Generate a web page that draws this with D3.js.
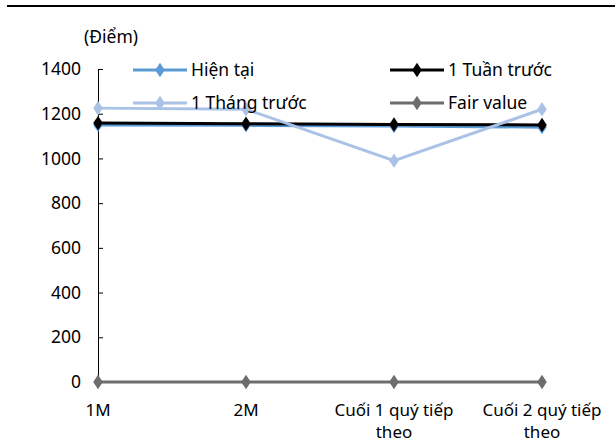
<!DOCTYPE html>
<html>
<head>
<meta charset="utf-8">
<script src="https://cdn.jsdelivr.net/npm/d3@7"></script>
<style>
  body { margin: 0; background: #fff; }
</style>
</head>
<body>
<svg id="chart" width="615" height="443"></svg>
<script>
// Données
const categories = ["1M", "2M", "Cuối 1 quý tiếp theo", "Cuối 2 quý tiếp theo"];
const catLines = [["1M"], ["2M"], ["Cuối 1 quý tiếp", "theo"], ["Cuối 2 quý tiếp", "theo"]];
const hienTai = [1150, 1148, 1145, 1140];
const tuanTruoc = [1158, 1155, 1152, 1150];
const thangTruoc = [1225, 1220, 990, 1220];
const fairValue = [0, 0, 0, 0];
const yTicks = [0, 200, 400, 600, 800, 1000, 1200, 1400];

const series = [
  { name: "Hiện tại", values: hienTai, color: "#5b9bd5" },
  { name: "1 Tuần trước", values: tuanTruoc, color: "#000000" },
  { name: "1 Tháng trước", values: thangTruoc, color: "#a9c2e6" },
  { name: "Fair value", values: fairValue, color: "#6d6d6d" }
];

const FONT = "Noto Sans, DejaVu Sans, sans-serif";
const FS = 17.5;

const svg = d3.select("#chart")
  .attr("font-family", FONT).attr("font-size", FS);
const margin = { top: 69, left: 98, right: 73, bottom: 61 };
const width = 615 - margin.left - margin.right;
const height = 443 - margin.top - margin.bottom;

// ligne du haut
svg.append("line")
  .attr("x1", 7).attr("x2", 615).attr("y1", 6).attr("y2", 6)
  .attr("stroke", "#000").attr("stroke-width", 2);

svg.append("text").attr("x", 84).attr("y", 43).text("(Điểm)");

const chart = svg.append("g")
  .attr("transform", `translate(${margin.left},${margin.top})`);

const x = d3.scalePoint().domain(categories).range([0, width]).padding(0);
const y = d3.scaleLinear().domain([0, 1400]).range([height, 0]);

// axe y
const yAxis = chart.append("g")
  .call(d3.axisLeft(y).tickValues(yTicks).tickFormat(d3.format("d"))
    .tickSize(-5).tickPadding(17).tickSizeOuter(0));
yAxis.attr("font-family", FONT).attr("font-size", FS);
yAxis.select(".domain").attr("stroke", "#000").attr("stroke-width", 1);
yAxis.selectAll("line").attr("stroke", "#000");
yAxis.selectAll("text").attr("fill", "#000");

// étiquettes x (deux lignes)
chart.selectAll(".xlab")
  .data(categories)
  .join("text")
  .attr("class", "xlab")
  .attr("text-anchor", "middle")
  .attr("font-size", 17)
  .attr("x", d => x(d))
  .attr("y", height + 34)
  .each(function (d, i) {
    catLines[i].forEach((t, j) => {
      d3.select(this).append("tspan")
        .attr("x", x(d)).attr("dy", j === 0 ? 0 : 22).text(t);
    });
  });

const line = d3.line().x((d, i) => x(categories[i])).y(d => y(d));
const diamond = d3.symbol().type(d3.symbolDiamond).size(60);

series.forEach(s => {
  chart.append("path")
    .datum(s.values)
    .attr("d", line)
    .attr("fill", "none")
    .attr("stroke", s.color)
    .attr("stroke-width", 3);
  chart.selectAll(null)
    .data(s.values)
    .join("path")
    .attr("d", diamond)
    .attr("transform", (d, i) => `translate(${x(categories[i])},${y(d)}) scale(1.15,1)`)
    .attr("fill", s.color);
});

// légende
const legendPos = [
  { x: 133, y: 70 }, { x: 390, y: 70 },
  { x: 133, y: 103 }, { x: 390, y: 103 }
];
series.forEach((s, i) => {
  const g = svg.append("g").attr("transform", `translate(${legendPos[i].x},${legendPos[i].y})`);
  g.append("line").attr("x1", 0).attr("x2", 54)
    .attr("stroke", s.color).attr("stroke-width", 3);
  g.append("path").attr("d", diamond).attr("transform", "translate(27,0) scale(1.15,1)").attr("fill", s.color);
  g.append("text").attr("x", 58).attr("y", 6).text(s.name);
});
</script>
</body>
</html>
